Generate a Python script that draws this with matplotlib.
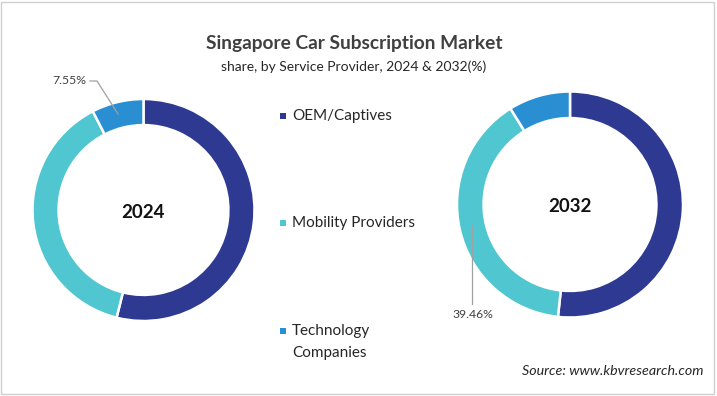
import matplotlib
matplotlib.use("Agg")
import matplotlib.pyplot as plt
from matplotlib.patches import Rectangle

categories = ["OEM/Captives", "Mobility Providers", "Technology\nCompanies"]
share_2024 = [53.9, 38.55, 7.55]
share_2032 = [51.7, 39.46, 8.84]
years = ["2024", "2032"]
colors = ["#2E3A92", "#4FC6D0", "#2A8FD2"]

plt.rcParams['font.family'] = ['Lato', 'DejaVu Sans']

W, H = 717, 396
fig = plt.figure(figsize=(W / 100, H / 100), dpi=100)
ax = fig.add_axes([0, 0, 1, 1])
ax.set_xlim(0, W)
ax.set_ylim(0, H)
ax.set_aspect('equal')
ax.axis('off')

def Y(y):
    return H - y

# Donuts
specs = [(share_2024, (143.5, Y(210)), 111), (share_2032, (570, Y(204.5)), 113)]
for (vals, c, r), yr in zip(specs, years):
    ax.pie(vals, colors=colors, startangle=90, counterclock=False,
           center=c, radius=r, frame=True,
           wedgeprops=dict(width=r * 0.235, edgecolor='white', linewidth=1.8))
    ax.text(c[0], c[1] - 2, yr, ha='center', va='center', fontsize=13.5,
            fontweight='bold', color='#111111')
ax.set_xlim(0, W)
ax.set_ylim(0, H)
ax.axis('off')

# Labels with leader lines
ax.plot([90, 97, 118], [Y(81), Y(81), Y(114)], color='#A0A0A0', lw=0.9)
ax.text(86, Y(81), f"{share_2024[2]:.2f}%", ha='right', va='center',
        fontsize=8.8, color='#404040')
ax.plot([472, 472], [Y(304), Y(226)], color='#A0A0A0', lw=0.9)
ax.text(473, Y(315), f"{share_2032[1]:.2f}%", ha='center', va='center',
        fontsize=8.8, color='#404040')

# Title
ax.text(354, Y(44), "Singapore Car Subscription Market", ha='center', va='center',
        fontsize=13.8, fontweight='bold', color='#404040')
ax.text(354, Y(67), "share, by Service Provider, 2024 & 2032(%)", ha='center',
        va='center', fontsize=10, color='#262626')

# Legend
leg_y = [116, 223, 331]
for cat, col, ly in zip(categories, colors, leg_y):
    ax.add_patch(Rectangle((280, Y(ly) - 3), 6, 6, facecolor=col, edgecolor='none'))
    for i, line in enumerate(cat.split('\n')):
        ax.text(292, Y(ly + 22 * i), line, ha='left', va='center',
                fontsize=11, color='#262626')

# Source
ax.text(703, Y(371), "Source: www.kbvresearch.com", ha='right', va='center',
        fontsize=10.3, style='italic', color='#262626')

# Border
fig.patches.append(Rectangle((1.5 / W, 2 / H), (W - 4.5) / W, (H - 3.5) / H,
                             transform=fig.transFigure, fill=False,
                             edgecolor='#D0D0D0', linewidth=1))

fig.savefig("out.png", dpi=100)
